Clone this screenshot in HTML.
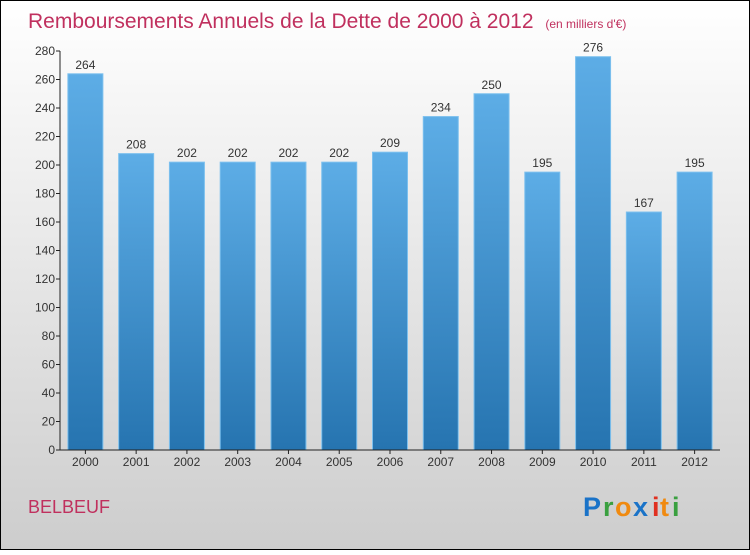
<!DOCTYPE html>
<html><head><meta charset="utf-8"><style>
html,body{margin:0;padding:0;}
body{width:750px;height:550px;overflow:hidden;font-family:"Liberation Sans",sans-serif;}
</style></head><body>
<svg id="chart" width="750" height="550" xmlns="http://www.w3.org/2000/svg">
<defs>
<linearGradient id="bg" x1="0" y1="0" x2="0" y2="1"><stop offset="0" stop-color="#ffffff"/><stop offset="1" stop-color="#cdcdcd"/></linearGradient>
<linearGradient id="bar" x1="0" y1="0" x2="0" y2="1"><stop offset="0" stop-color="#5dade6"/><stop offset="1" stop-color="#2674b0"/></linearGradient>
</defs>
<rect x="0.5" y="0.5" width="749" height="549" fill="url(#bg)" stroke="#000"/>
<text x="28" y="28" font-size="21" fill="#c0305e">Remboursements Annuels de la Dette de 2000 à 2012 <tspan font-size="12" dx="6">(en milliers d'€)</tspan></text>
<g id="yaxis"></g>
<g id="bars"></g>
<g id="xaxis"></g>
<text x="28" y="513" font-size="18" fill="#c0305e">BELBEUF</text>
<g font-size="27" font-weight="bold" font-family="'Liberation Sans',sans-serif">
<text x="583" y="516" fill="#1a73c8">P</text><text x="603" y="516" fill="#3aa040">r</text><text x="615" y="516" fill="#f08a10">o</text><text x="633" y="516" fill="#1a73c8">x</text><text x="652" y="516" fill="#e03020">i</text><text x="660" y="516" fill="#f08a10">t</text><text x="672" y="516" fill="#3aa040">i</text>
</g>
</svg>
<script>
const categories=["2000","2001","2002","2003","2004","2005","2006","2007","2008","2009","2010","2011","2012"];
const values=[264,208,202,202,202,202,209,234,250,195,276,167,195];
const yTicks=[0,20,40,60,80,100,120,140,160,180,200,220,240,260,280];
const NS="http://www.w3.org/2000/svg";
const x0=60,x1=720,y0=450,yTop=51,yMax=280;
const band=(x1-x0)/categories.length;
function ys(v){return y0-(v/yMax)*(y0-yTop);}
function xs(i){return x0+band*(i+0.5);}
function mk(tag,attrs,parent){const e=document.createElementNS(NS,tag);for(const k in attrs)e.setAttribute(k,attrs[k]);parent.appendChild(e);return e;}
const ya=document.getElementById('yaxis'),ba=document.getElementById('bars'),xa=document.getElementById('xaxis');
let l=mk('line',{x1:x0,y1:yTop,x2:x0,y2:y0,stroke:'#222'},ya);


yTicks.forEach(t=>{
 const y=ys(t);
 const tk=mk('line',{x1:x0-4,y1:y,x2:x0,y2:y,stroke:'#222'},ya);
 
 
 const tx=mk('text',{x:x0-5,y:y+4,'text-anchor':'end','font-size':12,fill:'#333'},ya);
 tx.textContent=t;
 
 
});
const bw=35;
values.forEach((v,i)=>{
 const cx=xs(i);
 const r=mk('rect',{x:cx-bw/2,y:ys(v),width:bw,height:y0-ys(v),fill:'url(#bar)',stroke:'#7cc0ee','stroke-width':1},ba);
 
 
 const t=mk('text',{x:cx,y:ys(v)-5,'text-anchor':'middle','font-size':12,fill:'#333'},ba);
 t.textContent=v;
 
 
 const tk=mk('line',{x1:cx,y1:y0,x2:cx,y2:y0+4,stroke:'#222'},xa);
 
 
 const xl=mk('text',{x:cx,y:y0+16,'text-anchor':'middle','font-size':12,fill:'#333'},xa);
 xl.textContent=categories[i];
 
 
});
let xl=mk('line',{x1:x0,y1:y0,x2:x1,y2:y0,stroke:'#222'},xa);


</script>
</body></html>
